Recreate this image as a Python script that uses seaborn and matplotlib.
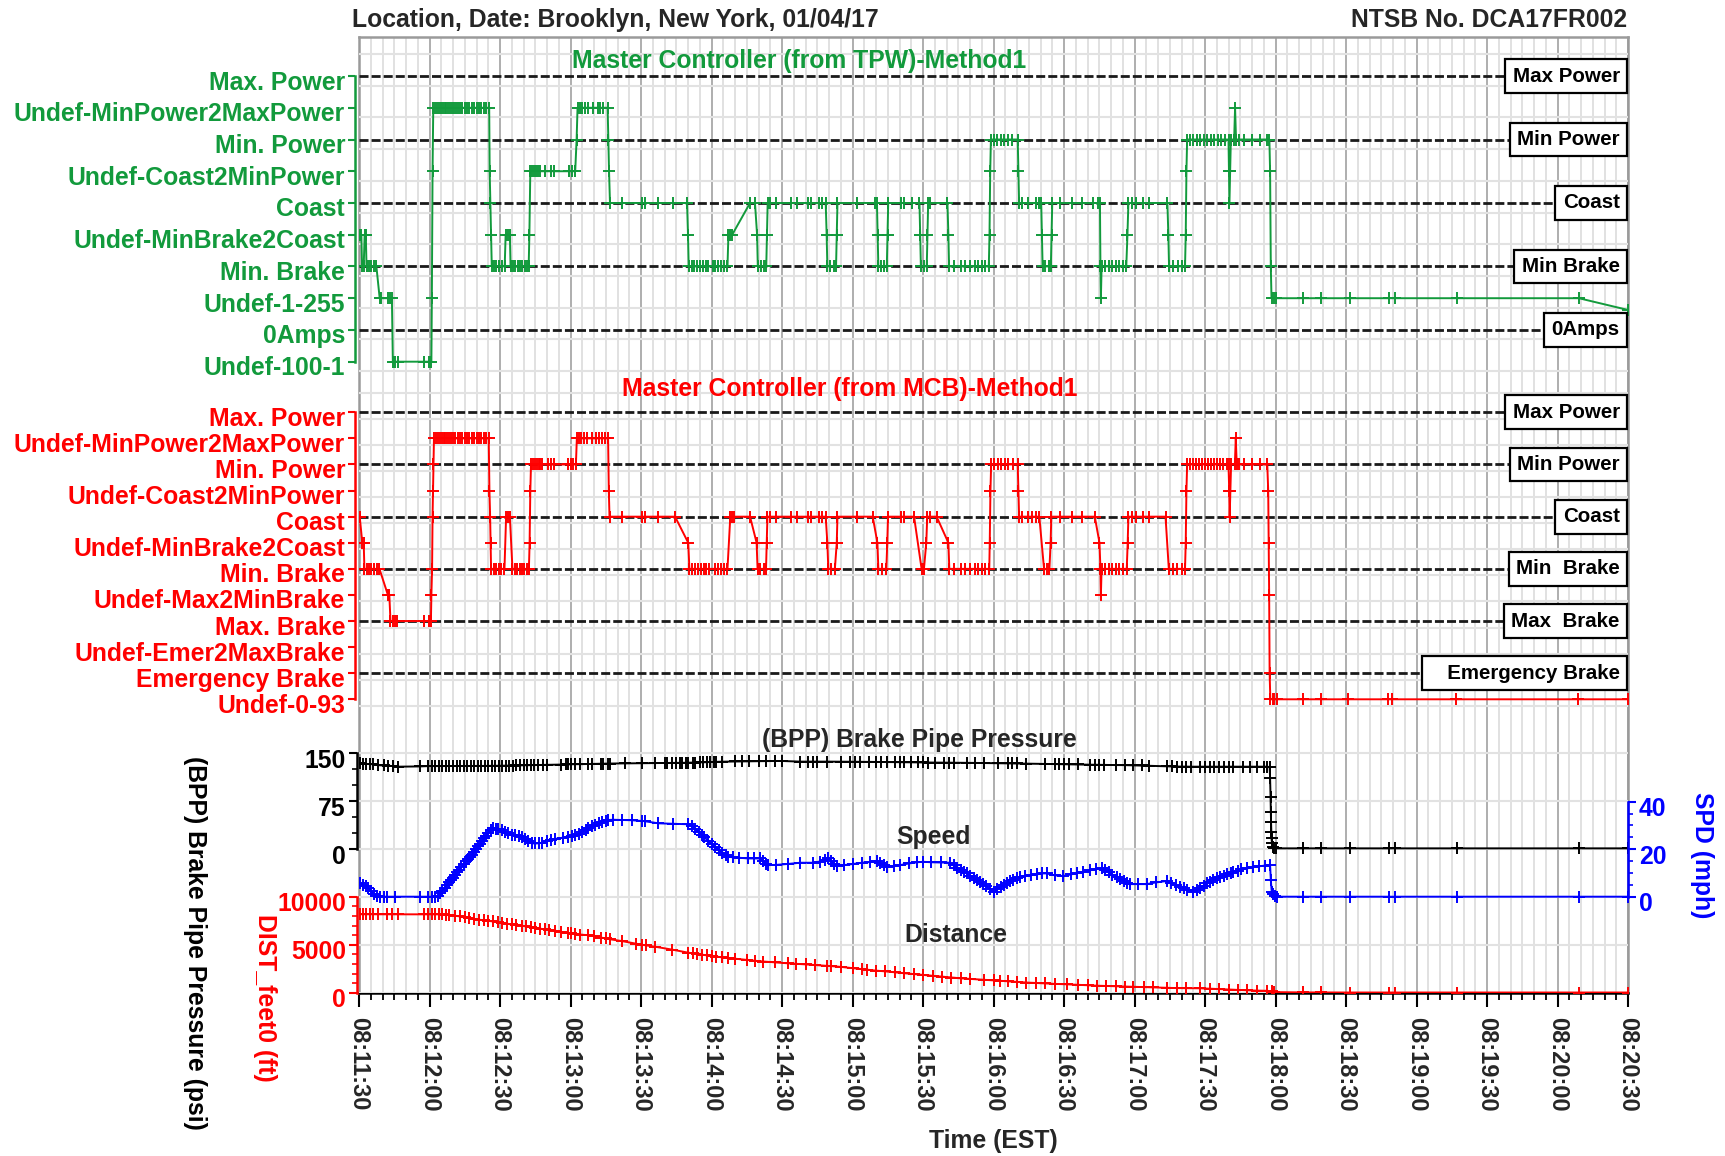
import numpy as np
import pandas as pd
import matplotlib
matplotlib.use("Agg")
import matplotlib.pyplot as plt
import matplotlib.transforms as mtrans
from matplotlib.ticker import FixedLocator, MultipleLocator
import seaborn as sns

# ---------------------------------------------------------------- data
# time is in seconds after 08:11:30 (EST)
time_ticks = [0, 30, 60, 90, 120, 150, 180, 210, 240, 270, 300, 330, 360,
              390, 420, 450, 480, 510, 540]
time_tick_labels = ["08:11:30", "08:12:00", "08:12:30", "08:13:00", "08:13:30",
                    "08:14:00", "08:14:30", "08:15:00", "08:15:30", "08:16:00",
                    "08:16:30", "08:17:00", "08:17:30", "08:18:00", "08:18:30",
                    "08:19:00", "08:19:30", "08:20:00", "08:20:30"]

tpw_levels = ["Undef-100-1", "0Amps", "Undef-1-255", "Min. Brake",
              "Undef-MinBrake2Coast", "Coast", "Undef-Coast2MinPower",
              "Min. Power", "Undef-MinPower2MaxPower", "Max. Power"]
tpw_refs = [("Max Power", 9), ("Min Power", 7), ("Coast", 5),
            ("Min Brake", 3), ("0Amps", 1)]

mcb_levels = ["Undef-0-93", "Emergency Brake", "Undef-Emer2MaxBrake",
              "Max. Brake", "Undef-Max2MinBrake", "Min. Brake",
              "Undef-MinBrake2Coast", "Coast", "Undef-Coast2MinPower",
              "Min. Power", "Undef-MinPower2MaxPower", "Max. Power"]
mcb_refs = [("Max Power", 11), ("Min Power", 9), ("Coast", 7),
            ("Min  Brake", 5), ("Max  Brake", 3), ("   Emergency Brake", 1)]

tpw_points = [(0.3,4),(1.0,4),(1.3,3),(2.0,3),(2.4,4),(2.9,4),(3.2,3),(4.2,3),(5.2,3),(6.2,3),(7.4,3),
    (8.8,2),(9.4,2),(12.4,2),(13.3,2),(14.0,2),(14.4,0),(15.5,0),(16.8,0),(27.6,0),(29.6,0),(30.8,0),
    (31.0,2),(31.3,6),(31.6,8),(32.4,8),(33.2,8),(34.0,8),(34.8,8),(35.6,8),(36.4,8),(37.2,8),(38.0,8),
    (38.8,8),(39.6,8),(40.4,8),(41.2,8),(42.0,8),(43.0,8),(44.0,8),(45.0,8),(46.0,8),(47.0,8),(48.0,8),
    (49.0,8),(50.0,8),(51.0,8),(52.0,8),(53.0,8),(54.0,8),(55.4,8),(55.6,6),(55.9,5),(56.2,4),(56.5,3),
    (57.5,3),(58.5,3),(59.5,3),(61.0,3),(62.0,3),(62.4,4),(63.2,4),(64.2,4),(64.5,3),(65.5,3),(66.5,3),
    (67.5,3),(68.5,3),(69.5,3),(70.5,3),(71.5,3),(72.2,3),(72.5,4),(72.9,6),(73.6,6),(74.4,6),(75.2,6),
    (76.0,6),(77.0,6),(79.0,6),(81.5,6),(83.0,6),(89.5,6),(90.8,6),(92.0,6),(92.6,7),(93.0,8),(94.0,8),
    (95.0,8),(96.0,8),(97.5,8),(99.5,8),(101.5,8),(102.5,8),(104.0,8),(105.8,8),(106.1,7),(106.4,6),
    (106.8,5),(111.8,5),(120.3,5),(121.5,5),(127.2,5),(133.5,5),(139.6,5),(140.0,4),(140.3,3),(141.5,3),
    (142.7,3),(143.9,3),(145.1,3),(146.3,3),(147.5,3),(148.7,3),(150.5,3),(151.7,3),(152.9,3),(154.1,3),
    (155.3,3),(156.8,3),(157.2,4),(158.0,4),(158.8,4),(166.4,5),(168.5,5),(169.4,4),(169.7,3),(171.0,3),
    (172.3,3),(173.3,3),(173.6,4),(173.9,5),(175.0,5),(177.5,5),(183.7,5),(186.5,5),(191.0,5),(192.5,5),
    (195.7,5),(197.0,5),(198.6,5),(199.0,4),(199.3,3),(200.5,3),(202.0,3),(203.0,3),(203.3,4),(203.6,5),
    (212.0,5),(219.6,5),(220.4,5),(220.7,4),(221.0,3),(222.0,3),(223.5,3),(224.6,3),(224.9,4),(225.2,5),
    (230.6,5),(232.0,5),(235.5,5),(238.5,5),(238.8,4),(239.1,3),(240.5,3),(241.6,3),(241.9,4),(242.2,5),
    (243.0,5),(250.4,5),(250.8,4),(251.1,3),(253.0,3),(256.0,3),(258.0,3),(260.0,3),(262.0,3),(263.5,3),
    (265.0,3),(266.5,3),(268.0,3),(268.3,4),(268.6,6),(268.9,7),(270.0,7),(271.5,7),(273.0,7),(274.5,7),
    (276.0,7),(278.0,7),(280.3,7),(280.6,6),(280.9,5),(282.0,5),(284.5,5),(288.0,5),(289.5,5),(290.3,5),
    (290.6,4),(290.9,3),(292.0,3),(293.5,3),(294.4,3),(294.7,4),(295.0,5),(298.5,5),(303.5,5),(307.5,5),
    (312.5,5),(314.3,5),(315.3,5),(315.5,3),(315.7,2),(316.0,3),(317.5,3),(319.0,3),(320.5,3),(322.0,3),
    (323.5,3),(325.0,3),(326.5,3),(327.0,4),(327.4,5),(329.0,5),(330.5,5),(333.5,5),(336.0,5),(344.0,5),
    (344.4,4),(344.7,3),(346.5,3),(348.5,3),(350.0,3),(351.5,3),(351.8,4),(352.1,6),(352.4,7),(353.5,7),
    (355.0,7),(356.5,7),(358.0,7),(359.5,7),(361.0,7),(362.5,7),(364.0,7),(365.5,7),(367.0,7),(368.5,7),
    (370.0,7),(370.2,6),(370.4,5),(370.7,6),(371.0,7),(372.4,7),(372.8,8),(373.2,7),(374.5,7),(376.5,7),
    (380.0,7),(383.5,7),(386.5,7),(387.4,7),(387.7,6),(388.0,3),(388.3,2),(389.4,2),(390.2,2),(401.7,2),
    (409.4,2),(421.7,2),(438.3,2),(440.9,2),(467.2,2),(519.1,2),(540.0,1.63)]

mcb_points = [(0.3,7),(1.4,6),(2.0,6),(2.3,5),(3.2,5),(4.2,5),(5.2,5),(6.2,5),(7.5,5),(8.7,5),(12.3,4),
    (12.9,4),(13.4,3),(14.3,3),(15.3,3),(16.2,3),(27.6,3),(29.8,3),(30.6,3),(30.8,4),(31.1,5),(31.3,7),
    (31.5,8),(31.7,9),(31.9,10),(32.8,10),(33.6,10),(34.4,10),(35.2,10),(36.0,10),(36.8,10),(37.6,10),
    (38.4,10),(39.2,10),(40.0,10),(41.0,10),(42.0,10),(43.0,10),(44.0,10),(45.0,10),(46.0,10),(47.0,10),
    (48.0,10),(49.0,10),(50.0,10),(51.0,10),(52.0,10),(53.0,10),(54.0,10),(55.2,10),(55.5,8),(55.8,7),
    (56.0,6),(56.2,5),(57.3,5),(58.4,5),(59.5,5),(60.6,5),(61.9,5),(62.6,7),(63.3,7),(64.2,7),(65.3,5),
    (66.3,5),(67.3,5),(68.3,5),(69.3,5),(70.3,5),(71.3,5),(72.3,5),(72.6,6),(72.9,8),(73.2,9),(74.0,9),
    (74.8,9),(75.6,9),(76.4,9),(77.2,9),(78.0,9),(80.5,9),(81.5,9),(83.0,9),(89.0,9),(90.0,9),(91.0,9),
    (92.3,9),(92.7,10),(93.6,10),(94.6,10),(95.6,10),(97.0,10),(99.0,10),(101.0,10),(102.0,10),
    (103.5,10),(104.5,10),(106.0,10),(106.3,8),(106.6,7),(111.8,7),(120.3,7),(121.5,7),(127.2,7),
    (134.5,7),(140.1,6),(140.6,5),(141.8,5),(143.0,5),(144.2,5),(145.4,5),(146.6,5),(147.8,5),(149.0,5),
    (151.5,5),(152.7,5),(154.0,5),(155.4,5),(156.8,5),(158.0,7),(158.8,7),(159.5,7),(166.4,7),(169.2,6),
    (169.6,5),(170.8,5),(172.2,5),(173.2,5),(173.5,6),(173.8,7),(175.0,7),(177.5,7),(183.7,7),(186.5,7),
    (191.0,7),(192.5,7),(195.7,7),(197.0,7),(198.6,7),(199.3,6),(199.7,5),(201.0,5),(202.5,5),(203.3,6),
    (203.6,7),(212.0,7),(218.6,7),(220.6,6),(221.0,5),(222.5,5),(224.4,5),(224.8,6),(225.1,7),(230.6,7),
    (232.0,7),(236.2,7),(239.4,5),(240.4,5),(241.4,6),(241.8,7),(243.0,7),(245.8,7),(250.8,6),(251.2,5),
    (253.0,5),(256.0,5),(258.0,5),(260.0,5),(262.0,5),(263.5,5),(265.0,5),(266.5,5),(268.2,5),(268.4,6),
    (268.7,8),(269.0,9),(270.3,9),(271.8,9),(273.3,9),(274.8,9),(276.3,9),(278.3,9),(280.3,9),(280.6,8),
    (280.9,7),(282.0,7),(284.5,7),(286.5,7),(288.0,7),(289.5,7),(291.5,5),(292.6,5),(293.8,5),(294.3,6),
    (294.6,7),(298.5,7),(303.5,7),(307.5,7),(313.1,7),(315.1,6),(315.5,5),(315.7,4),(316.0,5),(317.5,5),
    (319.0,5),(320.5,5),(322.0,5),(323.5,5),(325.0,5),(326.7,5),(327.1,6),(327.4,7),(329.0,7),(330.5,7),
    (333.5,7),(336.0,7),(343.2,7),(344.6,5),(346.3,5),(348.2,5),(350.0,5),(351.5,5),(351.8,6),(352.1,8),
    (352.4,9),(353.5,9),(354.8,9),(356.1,9),(357.4,9),(358.7,9),(360.0,9),(361.3,9),(362.6,9),(363.9,9),
    (365.2,9),(366.5,9),(367.8,9),(369.2,9),(370.0,9),(370.3,8),(370.5,7),(370.8,8),(371.1,9),(372.7,9),
    (373.1,10),(373.5,9),(374.5,9),(376.5,9),(380.0,9),(383.5,9),(386.5,9),(386.9,8),(387.1,6),(387.3,4),
    (387.5,1),(387.8,0),(388.9,0),(389.5,0),(390.8,0),(401.6,0),(409.5,0),(420.7,0),(438.0,0),(439.6,0),
    (466.6,0),(518.7,0),(540.0,0)]

bpp_points = [(0.4,134.5),(1.5,134),(3,133.5),(4.5,133),(6,133),(8,131.5),(10.5,131),(12.5,130.5),
    (14.5,130),(16.7,129.1),(26,129.5),(29.5,130),(31,130),(32.5,130),(34,130),(35.5,130),(37,130),
    (38.5,130),(40,130.1),(41.5,130.1),(43,130.2),(44.5,130.2),(46,130.2),(47.5,130.2),(49,130.2),
    (50.5,130.3),(52,130.3),(53.5,130.3),(55,130.4),(56.5,130.4),(58,130.5),(59.5,130.5),(61,130.6),
    (62.5,130.7),(64,130.8),(65.5,130.9),(67,131),(68.5,131.1),(70,131.2),(71.5,131.3),(73,131.4),
    (74.5,131.5),(76,131.6),(78.5,131.8),(80,132),(86,132.4),(88,132.6),(89,132.7),(90,132.8),(92,133),
    (94,133),(97.6,133.3),(99,133.4),(103,133.7),(104,133.8),(106,133.9),(107,134),(113,134.2),
    (120.3,134.4),(126,134.6),(130,134.7),(131,134.8),(133,134.8),(135,134.9),(136.5,135),(137.5,135.1),
    (139,135.2),(140.2,135.3),(142,135.5),(143,135.6),(145,135.8),(146.5,136),(148,136.1),(149.5,136.3),
    (151,136.5),(152,136.6),(154.3,136.9),(160,137.2),(163,137.4),(166,137.6),(170,137.7),(173,137.8),
    (177,137.9),(180,138),(187.7,137),(191,137),(193,137),(195,137),(199,137),(205,136.8),(209,136.8),
    (211,136.8),(213,136.7),(217,136.6),(220,136.5),(222,136.4),(224.6,136.3),(228,136.2),(230,136.1),
    (232,136),(235,135.9),(238,135.8),(240,135.7),(242,135.6),(245,135.5),(249,135.4),(251,135.3),
    (253,135.3),(258.6,135.2),(262,135),(266,134.8),(272,134.5),(276,134.3),(278,134.2),(280,134.1),
    (284,133.8),(292,133.4),(296,133.1),(298,133),(300,132.8),(302,132.7),(306,132.5),(311,132.2),
    (313,132),(315,132),(317,131.8),(322,131.6),(326,131.5),(329.5,131.2),(333,131),(336,130.5),
    (344,129.5),(346,129.4),(348,129.3),(350,129.2),(352,129.1),(354,129.1),(358,129.1),(360,129.1),
    (362,129.1),(364,129.1),(366,129.1),(368,129.1),(370,129.1),(372,129.1),(376,129.1),(379,129.1),
    (382,129.1),(385,129.1),(386.5,129.1),(387.5,128.5),(387.7,111),(387.9,82),(388.0,59),(388.1,43),
    (388.2,27.5),(388.3,17.2),(388.5,9.4),(389.0,4.1),(389.4,1.5),(390.2,1.5),(401.7,1.5),(409.4,1.5),
    (421.7,1.5),(438.3,1.5),(440.9,1.5),(467.2,1.5),(519.1,1.5),(540,1.5)]

speed_points = [(0.4,5.6),(1.6,5.0),(2.8,4.6),(4.0,3.5),(5.2,2.3),(6.2,1.2),(7.5,0.2),(9.0,0),(10.5,0),
    (12.0,0),(15.5,0),(26.0,0),(29.5,0),(31.0,0),(32.5,0),(33.8,0.4),(34.6,1.4),(35.5,2.5),(36.4,3.8),
    (37.3,4.9),(38.2,6.1),(39.1,7.2),(40.0,8.0),(40.9,9.1),(41.8,10.3),(42.7,11.4),(43.6,12.6),
    (44.5,13.8),(45.4,14.9),(46.3,15.9),(47.2,16.8),(48.0,17.5),(48.9,18.9),(49.8,20.0),(50.7,21.2),
    (51.6,22.3),(52.5,23.5),(53.4,24.6),(54.2,25.7),(55.0,26.7),(56.0,27.9),(57.2,28.8),(58.2,28.7),
    (59.3,28.3),(60.7,28.0),(62.0,27.4),(63.5,26.8),(65.0,26.0),(66.5,25.9),(68.0,25.6),(69.2,25.3),
    (70.5,24.4),(72.0,23.4),(73.5,22.5),(75.0,22.4),(76.5,22.5),(77.7,22.7),(80.0,23.5),(81.5,23.9),
    (83.4,24.3),(87.0,24.9),(89.0,25.3),(90.5,25.5),(92.0,25.9),(93.5,26.6),(95.0,27.4),(96.5,28.2),
    (97.6,28.8),(99.0,29.6),(100.5,30.3),(102.0,30.9),(103.5,31.5),(105.0,32.0),(106.1,32.3),
    (108.0,32.4),(111.8,32.3),(116.0,32.2),(120.3,31.9),(121.5,31.8),(127.4,30.9),(133.5,30.7),
    (140.2,30.5),(141.5,29.8),(143.0,28.6),(144.5,27.3),(145.8,26.0),(147.0,25.0),(148.5,23.6),
    (150.0,22.3),(151.5,21.0),(153.0,19.8),(154.5,18.6),(156.0,17.4),(157.2,16.8),(159.0,16.6),
    (161.5,16.4),(165.7,16.1),(168.0,16.1),(170.6,16.1),(172.0,15.0),(173.2,13.9),(174.2,13.3),
    (177.5,13.4),(182.7,13.8),(187.7,14.3),(193.3,14.3),(196.0,14.8),(198.5,15.6),(199.7,16.1),
    (201.0,15.0),(202.2,13.6),(203.3,12.9),(206.5,13.3),(210.4,13.8),(214.0,14.3),(217.5,14.6),
    (220.3,15.0),(221.8,14.2),(223.3,13.2),(224.6,12.6),(227.5,13.0),(230.2,13.3),(234.0,14.0),
    (237.5,14.5),(240.1,14.7),(243.5,14.5),(247.5,14.4),(251.5,14.3),(253.0,13.2),(254.5,12.2),
    (256.0,11.3),(257.5,10.5),(258.6,9.8),(260.0,8.9),(261.5,8.0),(263.0,7.1),(264.3,6.3),(265.5,5.3),
    (266.8,4.5),(268.3,3.3),(270.0,2.1),(271.5,3.1),(273.0,4.1),(274.3,4.9),(275.6,5.6),(277.0,6.4),
    (278.5,7.1),(280.0,7.8),(281.3,8.4),(283.5,8.7),(286.0,9.1),(288.5,9.4),(290.5,9.8),(292.6,9.8),
    (296.0,9.0),(299.7,8.7),(303.0,9.4),(305.5,9.9),(308.2,10.5),(311.0,11.1),(313.5,11.6),(316.0,11.9),
    (317.5,11.2),(319.0,10.2),(320.5,9.3),(322.4,8.4),(324.0,7.5),(325.5,6.6),(327.0,5.7),(328.1,5.3),
    (331.5,5.3),(335.2,5.3),(339.0,6.0),(343.7,6.6),(345.5,5.8),(347.5,5.0),(349.4,4.2),(351.0,3.5),
    (352.5,2.9),(355.0,2.1),(356.5,2.8),(358.0,3.8),(359.5,4.7),(361.0,5.6),(362.1,6.3),(363.5,7.0),
    (365.0,7.7),(366.5,8.3),(368.0,8.9),(369.5,9.4),(371.0,9.9),(372.0,10.5),(374.0,11.0),(375.5,11.5),
    (377.7,11.9),(380.5,12.4),(383.0,12.8),(385.5,13.1),(387.7,13.3),(388.0,7.0),(388.4,2.1),
    (389.0,1.0),(389.8,0.2),(390.8,0),(401.7,0),(409.4,0),(421.7,0),(438.3,0),(440.9,0),(467.2,0),
    (519.1,0),(540.0,0)]

dist_points = [(0.4,8170),(1.5,8170),(3,8170),(4.5,8170),(6,8170),(8,8170),(12,8170),(14,8170),
    (16.7,8170),(27.5,8170),(29.5,8170),(31,8170),(32.5,8170),(34,8168),(35.5,8160),(37,8140),
    (38.5,8110),(40.9,8020),(43,7940),(45,7850),(47,7760),(49,7670),(51,7610),(53,7560),(55,7500),
    (57,7420),(59,7340),(61,7260),(63,7180),(65,7110),(67,7050),(69.2,6990),(71,6900),(73,6820),
    (75,6740),(77,6670),(79,6610),(81,6550),(83.4,6460),(86,6340),(89,6230),(90,6180),(92,6110),
    (94,6060),(97.6,5990),(100,5880),(103,5740),(105,5650),(107,5560),(111.8,5380),(118,5100),
    (120.3,5000),(122,4940),(126,4790),(133,4500),(140.1,4170),(142,4100),(144,4020),(146,3950),
    (148,3890),(150,3820),(152,3760),(154.3,3690),(157,3620),(160,3540),(165,3420),(168.4,3330),
    (172,3250),(177,3160),(182.6,3060),(186,3010),(190,2950),(194,2880),(199,2800),(201,2770),
    (205,2690),(210,2560),(214,2460),(216,2400),(220,2300),(224,2220),(228,2120),(232,2030),
    (236,1940),(240,1860),(244.4,1740),(248,1660),(252,1570),(256,1500),(260,1440),(266,1340),
    (270,1290),(272.8,1250),(276,1190),(280,1120),(284,1060),(288,1010),(292,960),(296,920),
    (301.2,875),(306,820),(310,770),(314,730),(318,700),(322,670),(326,640),(329.5,625),(334,580),
    (338,550),(344,510),(348,480),(352,470),(357.9,458),(362,420),(366,380),(370,330),(374,290),
    (378,250),(382,220),(386.2,200),(388.4,150),(389.4,60),(401.7,30),(409.4,25),(421.7,20),
    (438.3,20),(440.9,20),(467.2,20),(519.1,20),(540,20)]

# ---------------------------------------------------------------- style
sns.set_theme(style="white")
plt.rcParams["font.family"] = ["Liberation Sans", "DejaVu Sans"]
plt.rcParams["font.weight"] = "bold"
plt.rcParams["axes.labelweight"] = "bold"
plt.rcParams["lines.scale_dashes"] = False

GREEN = "#129a3c"
RED = "#ff0000"
BLUE = "#0000ff"
FS = 17.8
BOX_FS = 14.8

W, H = 1725, 1156
fig = plt.figure(figsize=(W / 100, H / 100), dpi=100)
fig.patch.set_facecolor("white")
PL, PR = 359, 1628


def rect(top, bottom):
    return [PL / W, 1 - bottom / H, (PR - PL) / W, (bottom - top) / H]


def finish_ylabels(ax, dy_px=0.0):
    ax.tick_params(axis="y", which="major", labelsize=FS)
    off = mtrans.ScaledTranslation(0, dy_px / 100.0, fig.dpi_scale_trans)
    for tick in ax.yaxis.get_major_ticks():
        for lab in (tick.label1, tick.label2):
            lab.set_fontsize(FS)
            lab.set_fontweight("bold")
            lab.set_va("top")
            lab.set_transform(lab.get_transform() + off)


def draw_series(ax, pts, color, lw=1.4, ms=8):
    df = pd.DataFrame(pts, columns=["t", "v"])
    sns.lineplot(data=df, x="t", y="v", ax=ax, color=color, linewidth=lw,
                 marker="+", markersize=ms, markeredgewidth=1.4,
                 markeredgecolor=color, estimator=None, sort=False, zorder=3)
    ax.set_xlabel("")
    ax.set_ylabel("")


# ---------------------------------------------------------------- background frame / time axis
ax_bg = fig.add_axes(rect(36.7, 993))
ax_bg.set_xlim(0, 540)
ax_bg.set_ylim(0, 1)
ax_bg.set_yticks([])
ax_bg.set_xticks(time_ticks, time_tick_labels, rotation=270, fontsize=17)
ax_bg.xaxis.set_minor_locator(MultipleLocator(5))
ax_bg.grid(True, which="major", axis="x", color="#a8a8a8", lw=1.3)
ax_bg.grid(True, which="minor", axis="x", color="#dedede", lw=1.3)
ax_bg.tick_params(axis="x", which="major", direction="out", length=10, width=1.5,
                  color="black", pad=7, bottom=True)
ax_bg.tick_params(axis="x", which="minor", direction="out", length=5, width=1.3,
                  color="black", bottom=True)
for s in ax_bg.spines.values():
    s.set_color("#9a9a9a")
    s.set_linewidth(1.8)
ax_bg.spines["bottom"].set_color("black")
ax_bg.set_xlabel("Time (EST)", fontsize=FS, va="center")
ax_bg.xaxis.set_label_coords(993 / W, 1 - 1141 / H, transform=fig.transFigure)


def level_panel(top, bottom, ylim, levels, refs, pts, color, grid_offset):
    ax = fig.add_axes(rect(top, bottom))
    ax.set_facecolor("none")
    draw_series(ax, pts, color)
    ax.set_xlim(0, 540)
    ax.set_ylim(*ylim)
    for name, lev in refs:
        ax.axhline(lev, color="#1a1a1a", lw=2.0, dashes=(6.5, 2.2), zorder=2)
        ax.text(0.9935, lev, name, transform=ax.get_yaxis_transform(), ha="right",
                va="center", fontsize=BOX_FS, color="black", zorder=6,
                bbox=dict(boxstyle="square,pad=0.36", fc="white", ec="black", lw=1.6))
    n = len(levels)
    ax.yaxis.set_minor_locator(FixedLocator(np.arange(n + 1) + grid_offset))
    ax.grid(True, which="minor", axis="y", color="#e2e2e2", lw=1.5)
    ax.set_yticks(range(n), levels)
    ax.tick_params(axis="y", which="major", left=True, direction="out", length=5,
                   width=1.5, color=color, labelcolor=color, pad=2)
    ax.tick_params(axis="y", which="minor", left=False, length=0)
    ax.tick_params(axis="x", which="both", bottom=False, labelbottom=False)
    for s in ["top", "right", "bottom"]:
        ax.spines[s].set_visible(False)
    ax.spines["left"].set_color(color)
    ax.spines["left"].set_linewidth(1.8)
    ax.spines["left"].set_bounds(0, n - 1)
    ax.spines["left"].set_position(("outward", 3))
    finish_ylabels(ax, 5.5)
    return ax


ax_tpw = level_panel(36.7, 378, (-0.514, 10.239), tpw_levels, tpw_refs, tpw_points, GREEN, -0.3)
ax_mcb = level_panel(378, 722, (-0.870, 12.315), mcb_levels, mcb_refs, mcb_points, RED, -0.25)

# ---------------------------------------------------------------- lower panel
# horizontal grid of the lower panel (every 5000 ft on the distance scale)
ax_grid = fig.add_axes(rect(722, 993))
ax_grid.set_facecolor("none")
ax_grid.set_xlim(0, 540)
ax_grid.set_ylim(-31, 28198)
ax_grid.yaxis.set_major_locator(MultipleLocator(5000))
ax_grid.grid(True, which="major", axis="y", color="#e2e2e2", lw=1.5)
ax_grid.tick_params(axis="both", which="both", left=False, bottom=False,
                    labelleft=False, labelbottom=False)
for s in ax_grid.spines.values():
    s.set_visible(False)

ax_d = fig.add_axes(rect(722, 993))
ax_d.set_facecolor("none")
draw_series(ax_d, dist_points, RED)
ax_d.set_xlim(0, 540)
ax_d.set_ylim(-31, 28198)
ax_d.set_yticks([0, 5000, 10000], ["0", "5000", "10000"])
ax_d.yaxis.set_minor_locator(FixedLocator(np.arange(0, 10001, 1000)))
ax_d.tick_params(axis="y", which="major", left=True, direction="out", length=6, width=1.5,
                 color=RED, labelcolor=RED, pad=2)
ax_d.tick_params(axis="y", which="minor", left=True, direction="out", length=3.5, width=1.2,
                 color=RED)
ax_d.grid(False)
for s in ["top", "right", "bottom"]:
    ax_d.spines[s].set_visible(False)
ax_d.spines["left"].set_color(RED)
ax_d.spines["left"].set_linewidth(1.8)
ax_d.spines["left"].set_bounds(0, 10000)
ax_d.spines["left"].set_position(("outward", 1.5))
ax_d.set_ylabel("DIST_feet0 (ft)", color=RED, fontsize=FS, rotation=270,
                ha="center", va="center", rotation_mode="default")
ax_d.yaxis.set_label_coords(265 / W, 1 - 998 / H, transform=fig.transFigure)

ax_p = ax_d.twinx()
ax_p.set_facecolor("none")
draw_series(ax_p, bpp_points, "black")
ax_p.set_ylim(-224.5, 198.9)
ax_p.yaxis.tick_left()
ax_p.yaxis.set_label_position("left")
ax_p.set_yticks([0, 75, 150], ["0", "75", "150"])
ax_p.yaxis.set_minor_locator(FixedLocator(np.arange(0, 151, 25)))
ax_p.tick_params(axis="y", which="major", left=True, right=False, direction="out", length=6,
                 width=1.5, color="black", labelcolor="black", pad=2)
ax_p.tick_params(axis="y", which="minor", left=True, right=False, direction="out", length=3.5,
                 width=1.2, color="black")
for s in ["top", "right", "bottom"]:
    ax_p.spines[s].set_visible(False)
ax_p.spines["left"].set_visible(True)
ax_p.spines["left"].set_color("black")
ax_p.spines["left"].set_linewidth(1.8)
ax_p.spines["left"].set_bounds(0, 150)
ax_p.spines["left"].set_position(("outward", 1.5))
ax_p.set_ylabel("(BPP) Brake Pipe Pressure (psi)", color="black", fontsize=FS, rotation=270,
                ha="center", va="center", rotation_mode="default")
ax_p.yaxis.set_label_coords(195 / W, 1 - 943 / H, transform=fig.transFigure)

ax_s = ax_d.twinx()
ax_s.set_facecolor("none")
draw_series(ax_s, speed_points, BLUE)
ax_s.set_ylim(-40.55, 73.56)
ax_s.set_yticks([0, 20, 40], ["0", "20", "40"])
ax_s.yaxis.set_minor_locator(FixedLocator(np.arange(0, 41, 5)))
ax_s.tick_params(axis="y", which="major", right=True, left=False, direction="out", length=6,
                 width=1.5, color=BLUE, labelcolor=BLUE, pad=2)
ax_s.tick_params(axis="y", which="minor", right=True, left=False, direction="out", length=3.5,
                 width=1.2, color=BLUE)
for s in ["top", "left", "bottom"]:
    ax_s.spines[s].set_visible(False)
ax_s.spines["right"].set_color(BLUE)
ax_s.spines["right"].set_linewidth(1.8)
ax_s.spines["right"].set_bounds(0, 40)
ax_s.set_ylabel("SPD (mph)", color=BLUE, fontsize=FS, rotation=270,
                ha="center", va="center", rotation_mode="default")
ax_s.yaxis.set_label_coords(1702 / W, 1 - 855 / H, transform=fig.transFigure)

for a in (ax_d, ax_p, ax_s):
    a.set_xlim(0, 540)
    a.tick_params(axis="x", which="both", bottom=False, labelbottom=False, top=False)
    finish_ylabels(a, 4.5)

# ---------------------------------------------------------------- texts
def ftext(x, y, s, **kw):
    fig.text(x / W, 1 - y / H, s, fontsize=FS, **kw)


ftext(352, 20, "Location, Date: Brooklyn, New York, 01/04/17", ha="left", va="center")
ftext(1627, 20, "NTSB No. DCA17FR002", ha="right", va="center")
ftext(799, 61, "Master Controller (from TPW)-Method1", ha="center", va="center", color=GREEN)
ftext(850, 389, "Master Controller (from MCB)-Method1", ha="center", va="center", color=RED)
ftext(919, 740, "(BPP) Brake Pipe Pressure", ha="center", va="center")
ftext(933, 837, "Speed", ha="center", va="center")
ftext(956, 935, "Distance", ha="center", va="center")

fig.savefig("out.png", dpi=100, facecolor="white")
